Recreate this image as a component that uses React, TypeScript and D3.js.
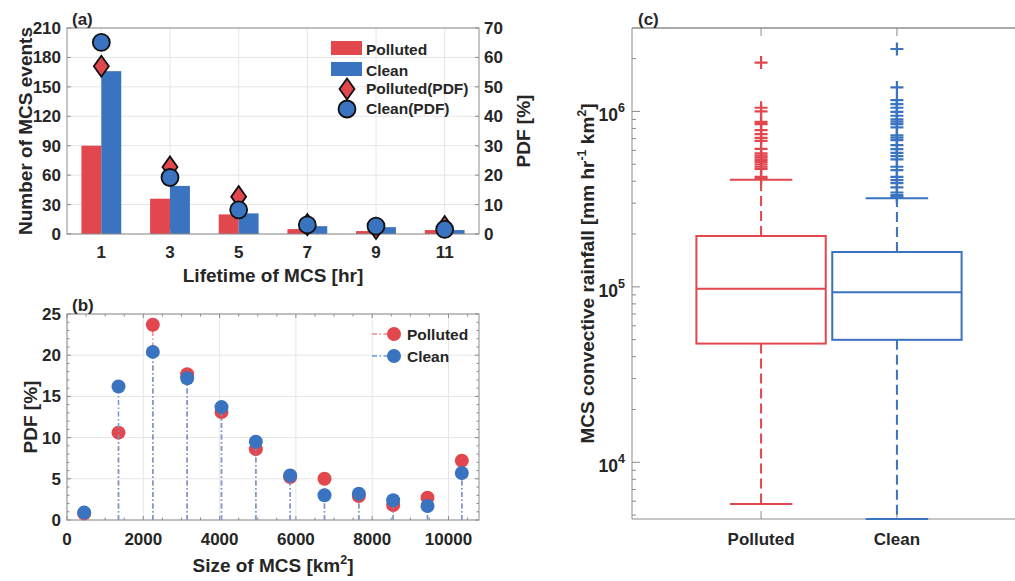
import React from 'react';
import * as d3 from 'd3';

const RED = '#e2474e';
const BLUE = '#3a73c0';
const RED_STEM = '#ee8a8e';
const BLUE_STEM = '#6e9ad6';
const TXT = '#262626';
const AX = '#8c8c8c';
const GRID = '#e6e6e6';
const FONT = '"Liberation Sans", Arial, Helvetica, sans-serif';

// panel (a): lifetime
const lifetimeHr = [1, 3, 5, 7, 9, 11];
const pollutedCount = [90, 36, 20, 5, 3, 4];
const cleanCount = [166, 49, 21, 8, 7, 4];
const pollutedLifePdf = [57.0, 22.8, 12.7, 3.2, 1.9, 2.5];
const cleanLifePdf = [65.1, 19.2, 8.2, 3.1, 2.7, 1.6];
const countTicks = [0, 30, 60, 90, 120, 150, 180, 210];
const lifePdfTicks = [0, 10, 20, 30, 40, 50, 60, 70];

// panel (b): size
const sizeKm2 = [450, 1350, 2250, 3150, 4050, 4950, 5850, 6750, 7650, 8550, 9450, 10350];
const pollutedSizePdf = [0.8, 10.6, 23.7, 17.7, 13.1, 8.6, 5.2, 5.0, 2.9, 1.8, 2.7, 7.2];
const cleanSizePdf = [0.9, 16.2, 20.4, 17.2, 13.7, 9.5, 5.4, 3.0, 3.2, 2.4, 1.7, 5.7];
const sizeTicks = [0, 2000, 4000, 6000, 8000, 10000];
const sizeMinorTicks = d3.range(0, 10801, 500);
const sizePdfTicks = [0, 5, 10, 15, 20, 25];
const sizePdfMinor = d3.range(0, 26, 1);

// panel (c): convective rainfall box plot
const groups = ['Polluted', 'Clean'];
// lower whisker, q1, median, q3, upper whisker
const pollutedRain = [5780, 47500, 97500, 195000, 408000];
const cleanRain = [4750, 49900, 93100, 158000, 320000];
const pollutedOutliers = [1.9e6, 1.05e6, 1.0e6, 8.73e5, 8.47e5, 7.82e5, 7.42e5, 7.07e5, 6.8e5, 6.12e5,
  5.76e5, 5.6e5, 5.45e5, 5.3e5, 5.15e5, 5.0e5, 4.85e5, 4.7e5, 4.24e5, 4.12e5];
const cleanOutliers = [2.27e6, 1.37e6, 1.16e6, 1.1e6, 1.05e6, 9.95e5, 9.45e5, 9.0e5, 8.75e5, 8.47e5, 8.11e5,
  7.3e5, 7.1e5, 6.86e5, 6.42e5, 6.1e5, 5.81e5, 5.56e5, 5.33e5, 4.84e5, 4.63e5, 4.24e5, 4.06e5, 3.9e5,
  3.69e5, 3.45e5, 3.33e5, 3.25e5];
const rainDecades = [1e4, 1e5, 1e6];
const rainExp = ['4', '5', '6'];

const T = ({ x, y, size = 17, anchor = 'start', rot = 0, children }: any) => (
  <text transform={`translate(${x},${y}) rotate(${rot})`} fontSize={size} textAnchor={anchor}
    fontFamily={FONT} fontWeight="bold" fill={TXT}>{children}</text>
);

const diamond = (cx: number, cy: number) => `M${cx},${cy - 10.5}L${cx + 7.5},${cy}L${cx},${cy + 10.5}L${cx - 7.5},${cy}Z`;

function PanelA() {
  const L = 67, R = 479, Tp = 28, B = 234;
  const x = d3.scaleLinear().domain([0, 12]).range([L, R]);
  const y = d3.scaleLinear().domain([0, 210]).range([B, Tp]);
  const y2 = d3.scaleLinear().domain([0, 70]).range([B, Tp]);
  const bw = 0.58;
  return (
    <g>
      {lifetimeHr.map(t => <line key={'gx' + t} x1={x(t)} x2={x(t)} y1={Tp} y2={B} stroke={GRID} />)}
      {countTicks.map(t => <line key={'gy' + t} x1={L} x2={R} y1={y(t)} y2={y(t)} stroke={GRID} />)}
      {lifetimeHr.map((t, i) => (
        <g key={'b' + t}>
          <rect x={x(t - bw)} y={y(pollutedCount[i])} width={x(t) - x(t - bw)} height={B - y(pollutedCount[i])} fill={RED} />
          <rect x={x(t)} y={y(cleanCount[i])} width={x(t + bw) - x(t)} height={B - y(cleanCount[i])} fill={BLUE} />
        </g>
      ))}
      <rect x={L} y={Tp} width={R - L} height={B - Tp} fill="none" stroke={AX} />
      {countTicks.map(t => <line key={'tl' + t} x1={L} x2={L + 4} y1={y(t)} y2={y(t)} stroke={AX} />)}
      {lifePdfTicks.map(t => <line key={'tr' + t} x1={R - 4} x2={R} y1={y2(t)} y2={y2(t)} stroke={AX} />)}
      {lifetimeHr.map(t => <line key={'tb' + t} x1={x(t)} x2={x(t)} y1={B} y2={B - 4} stroke={AX} />)}
      {lifetimeHr.map((t, i) => (
        <g key={'m' + t}>
          <path d={diamond(x(t), y2(pollutedLifePdf[i]))} fill={RED} stroke="#111" strokeWidth={1.8} />
          <circle cx={x(t)} cy={y2(cleanLifePdf[i])} r={8.5} fill={BLUE} stroke="#111" strokeWidth={1.8} />
        </g>
      ))}
      {countTicks.map(t => <T key={'ly' + t} x={L - 6} y={y(t) + 6} anchor="end">{t}</T>)}
      {lifePdfTicks.map(t => <T key={'ry' + t} x={R + 5} y={y2(t) + 6}>{t}</T>)}
      {lifetimeHr.map(t => <T key={'lx' + t} x={x(t)} y={258} anchor="middle">{t}</T>)}
      <T x={32} y={(Tp + B) / 2} size={19} anchor="middle" rot={-90}>Number of MCS events</T>
      <T x={530} y={(Tp + B) / 2} size={19} anchor="middle" rot={-90}>PDF [%]</T>
      <T x={(L + R) / 2} y={282} size={19} anchor="middle">Lifetime of MCS [hr]</T>
      <T x={72} y={25} size={17}>(a)</T>
      {/* legend */}
      <rect x={331} y={41} width={31} height={14} fill={RED} />
      <rect x={331} y={62} width={31} height={14} fill={BLUE} />
      <path d={diamond(347, 89)} fill={RED} stroke="#111" strokeWidth={1.8} />
      <circle cx={347} cy={109} r={8.5} fill={BLUE} stroke="#111" strokeWidth={1.8} />
      <T x={366} y={55} size={15.5}>Polluted</T>
      <T x={366} y={76} size={15.5}>Clean</T>
      <T x={366} y={94} size={15.5}>Polluted(PDF)</T>
      <T x={366} y={114} size={15.5}>Clean(PDF)</T>
    </g>
  );
}

function PanelB() {
  const L = 67, R = 479, Tp = 314, B = 520;
  const x = d3.scaleLinear().domain([0, 10800]).range([L, R]);
  const y = d3.scaleLinear().domain([0, 25]).range([B, Tp]);
  const dash = '5 2.5 1.5 2.5';
  return (
    <g>
      {sizeTicks.map(t => <line key={'gx' + t} x1={x(t)} x2={x(t)} y1={Tp} y2={B} stroke={GRID} />)}
      {sizePdfTicks.map(t => <line key={'gy' + t} x1={L} x2={R} y1={y(t)} y2={y(t)} stroke={GRID} />)}
      <rect x={L} y={Tp} width={R - L} height={B - Tp} fill="none" stroke={AX} />
      {sizeMinorTicks.map(t => (
        <g key={'mx' + t}>
          <line x1={x(t)} x2={x(t)} y1={B} y2={B - (t % 2000 === 0 ? 4 : 2.5)} stroke={AX} />
          <line x1={x(t)} x2={x(t)} y1={Tp} y2={Tp + (t % 2000 === 0 ? 4 : 2.5)} stroke={AX} />
        </g>
      ))}
      {sizePdfMinor.map(t => (
        <g key={'my' + t}>
          <line x1={L} x2={L + (t % 5 === 0 ? 4 : 2.5)} y1={y(t)} y2={y(t)} stroke={AX} />
          <line x1={R} x2={R - (t % 5 === 0 ? 4 : 2.5)} y1={y(t)} y2={y(t)} stroke={AX} />
        </g>
      ))}
      {sizeKm2.map((s, i) => (
        <line key={'sp' + s} x1={x(s)} x2={x(s)} y1={B} y2={y(pollutedSizePdf[i])} stroke={RED_STEM}
          strokeWidth={1.5} strokeDasharray={dash} />
      ))}
      {sizeKm2.map((s, i) => <circle key={'cp' + s} cx={x(s)} cy={y(pollutedSizePdf[i])} r={7} fill={RED} />)}
      {sizeKm2.map((s, i) => (
        <line key={'sc' + s} x1={x(s)} x2={x(s)} y1={B} y2={y(cleanSizePdf[i])} stroke={BLUE_STEM}
          strokeWidth={1.5} strokeDasharray={dash} />
      ))}
      {sizeKm2.map((s, i) => <circle key={'cc' + s} cx={x(s)} cy={y(cleanSizePdf[i])} r={7} fill={BLUE} />)}
      {sizePdfTicks.map(t => <T key={'ly' + t} x={L - 6} y={y(t) + 6} anchor="end">{t}</T>)}
      {sizeTicks.map(t => <T key={'lx' + t} x={x(t)} y={545} anchor="middle">{t}</T>)}
      <T x={37} y={(Tp + B) / 2} size={19} anchor="middle" rot={-90}>PDF [%]</T>
      <T x={(L + R) / 2} y={572} size={19} anchor="middle">
        <tspan>Size of MCS [km</tspan><tspan dy={-8} fontSize={12.5}>2</tspan><tspan dy={8}>]</tspan>
      </T>
      <T x={72} y={311} size={17}>(b)</T>
      {/* legend */}
      <line x1={372} x2={392} y1={334} y2={334} stroke={RED_STEM} strokeWidth={1.5} strokeDasharray={dash} />
      <circle cx={394} cy={334} r={7} fill={RED} />
      <line x1={372} x2={392} y1={356} y2={356} stroke={BLUE_STEM} strokeWidth={1.5} strokeDasharray={dash} />
      <circle cx={394} cy={356} r={7} fill={BLUE} />
      <T x={407} y={340} size={15.5}>Polluted</T>
      <T x={407} y={362} size={15.5}>Clean</T>
    </g>
  );
}

function PanelC() {
  const L = 632, R = 1026, Tp = 28, B = 519;
  const x = d3.scaleLinear().domain([0.05, 2.95]).range([L, R]);
  const y = d3.scaleLog().domain([4750, 2.99e6]).range([B, Tp]);
  const minor: number[] = [];
  [1e3, 1e4, 1e5, 1e6].forEach(d => d3.range(2, 10).forEach(k => {
    const v = d * k;
    if (v > 4750 && v < 2.99e6) minor.push(v);
  }));
  const series = [
    { name: groups[0], stats: pollutedRain, out: pollutedOutliers, color: RED },
    { name: groups[1], stats: cleanRain, out: cleanOutliers, color: BLUE },
  ];
  const hw = 0.476, cw = 0.23;
  return (
    <g>
      <line x1={L} x2={R} y1={Tp} y2={Tp} stroke="#555" />
      <line x1={L} x2={R} y1={B} y2={B} stroke={AX} />
      <line x1={L} x2={L} y1={Tp} y2={B} stroke={AX} />
      {groups.map((g, i) => (
        <g key={'xt' + g}>
          <line x1={x(i + 1)} x2={x(i + 1)} y1={Tp} y2={Tp + 8} stroke={AX} />
          <line x1={x(i + 1)} x2={x(i + 1)} y1={B} y2={B - 8} stroke={AX} />
          <T x={x(i + 1)} y={545} size={17} anchor="middle">{g}</T>
        </g>
      ))}
      {rainDecades.map(v => <line key={'mj' + v} x1={L} x2={L + 8} y1={y(v)} y2={y(v)} stroke={AX} />)}
      {minor.map(v => <line key={'mn' + v} x1={L} x2={L + 4} y1={y(v)} y2={y(v)} stroke={AX} />)}
      {rainDecades.map((v, i) => (
        <T key={'yl' + v} x={625} y={y(v) + 10} size={17.5} anchor="end">
          <tspan>10</tspan><tspan dy={-9} fontSize={12.5}>{rainExp[i]}</tspan>
        </T>
      ))}
      {series.map((s, i) => {
        const cx = x(i + 1);
        const [lw, q1, med, q3, uw] = s.stats;
        return (
          <g key={s.name} stroke={s.color} fill="none" strokeWidth={2}>
            <line x1={cx} x2={cx} y1={y(q3)} y2={y(uw)} strokeDasharray="10 5" />
            <line x1={cx} x2={cx} y1={y(q1)} y2={y(lw)} strokeDasharray="10 5" />
            <line x1={x(i + 1 - cw)} x2={x(i + 1 + cw)} y1={y(uw)} y2={y(uw)} />
            <line x1={x(i + 1 - cw)} x2={x(i + 1 + cw)} y1={y(lw)} y2={y(lw)} />
            <rect x={x(i + 1 - hw)} y={y(q3)} width={x(i + 1 + hw) - x(i + 1 - hw)} height={y(q1) - y(q3)} />
            <line x1={x(i + 1 - hw)} x2={x(i + 1 + hw)} y1={y(med)} y2={y(med)} />
            {s.out.map((o, k) => (
              <path key={k} d={`M${cx - 6.5},${y(o)}H${cx + 6.5}M${cx},${y(o) - 6.5}V${y(o) + 6.5}`} strokeWidth={2.2} />
            ))}
          </g>
        );
      })}
      <T x={594} y={(Tp + B) / 2} size={19} anchor="middle" rot={-90}>
        <tspan>MCS convective rainfall [mm hr</tspan><tspan dy={-8} fontSize={12.5}>-1</tspan>
        <tspan dy={8}> km</tspan><tspan dy={-8} fontSize={12.5}>2</tspan><tspan dy={8}>]</tspan>
      </T>
      <T x={638} y={25} size={17}>(c)</T>
    </g>
  );
}

export default function App() {
  return (
    <svg width={1015} height={581} style={{ position: 'absolute', left: 0, top: 0, background: '#fff' }}>
      <rect width={1015} height={581} fill="#fff" />
      <PanelA />
      <PanelB />
      <PanelC />
    </svg>
  );
}
